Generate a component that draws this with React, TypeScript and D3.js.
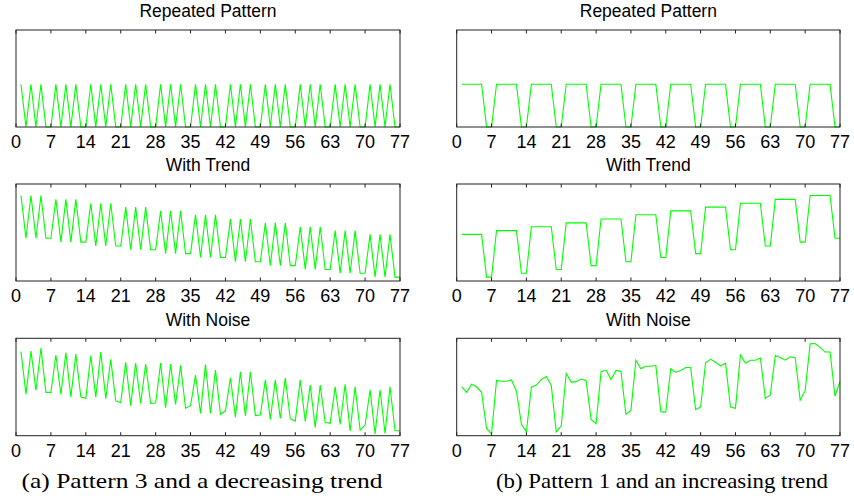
import React from "react";
import * as d3 from "d3";

const xTicks = [0, 7, 14, 21, 28, 35, 42, 49, 56, 63, 70, 77];
const titles = ["Repeated Pattern", "With Trend", "With Noise"];
const captions = ["(a) Pattern 3 and a decreasing trend", "(b) Pattern 1 and an increasing trend"];

const leftRepeated = [
  1, 0, 1, 0, 1, 0, 0, 1, 0, 1, 0, 1, 0, 0, 1, 0, 1, 0, 1, 0, 0, 1, 0, 1, 0, 1, 0, 0,
  1, 0, 1, 0, 1, 0, 0, 1, 0, 1, 0, 1, 0, 0, 1, 0, 1, 0, 1, 0, 0, 1, 0, 1, 0, 1, 0, 0,
  1, 0, 1, 0, 1, 0, 0, 1, 0, 1, 0, 1, 0, 0, 1, 0, 1, 0, 1, 0, 0,
];
const leftTrend = [
  2.0, 1.0, 2.0, 1.0, 2.0, 1.0, 1.0,
  1.91, 0.91, 1.91, 0.91, 1.91, 0.91, 0.91,
  1.82, 0.82, 1.82, 0.82, 1.82, 0.82, 0.82,
  1.73, 0.73, 1.73, 0.73, 1.73, 0.73, 0.73,
  1.64, 0.64, 1.64, 0.64, 1.64, 0.64, 0.64,
  1.55, 0.55, 1.55, 0.55, 1.55, 0.55, 0.55,
  1.45, 0.45, 1.45, 0.45, 1.45, 0.45, 0.45,
  1.36, 0.36, 1.36, 0.36, 1.36, 0.36, 0.36,
  1.27, 0.27, 1.27, 0.27, 1.27, 0.27, 0.27,
  1.18, 0.18, 1.18, 0.18, 1.18, 0.18, 0.18,
  1.09, 0.09, 1.09, 0.09, 1.09, 0.09, 0.09,
];
const leftNoise = [
  1.96, 0.97, 1.97, 1.06, 2.04, 1.01, 1.01,
  1.88, 0.96, 1.94, 0.9, 1.9, 0.9, 0.87,
  1.87, 0.9, 1.95, 0.86, 1.78, 0.81, 0.77,
  1.71, 0.7, 1.69, 0.75, 1.67, 0.75, 0.76,
  1.69, 0.65, 1.67, 0.73, 1.64, 0.64, 0.7,
  1.41, 0.52, 1.66, 0.52, 1.53, 0.5, 0.58,
  1.35, 0.43, 1.49, 0.46, 1.49, 0.47, 0.48,
  1.3, 0.38, 1.3, 0.4, 1.35, 0.39, 0.34,
  1.3, 0.33, 1.18, 0.19, 1.18, 0.31, 0.29,
  1.14, 0.26, 1.2, 0.11, 1.14, 0.13, 0.25,
  1.07, 0.04, 1.07, 0.05, 1.14, 0.12, 0.11,
];
const rightRepeated = [
  1, 1, 1, 1, 1, 0, 0, 1, 1, 1, 1, 1, 0, 0, 1, 1, 1, 1, 1, 0, 0, 1, 1, 1, 1, 1, 0, 0,
  1, 1, 1, 1, 1, 0, 0, 1, 1, 1, 1, 1, 0, 0, 1, 1, 1, 1, 1, 0, 0, 1, 1, 1, 1, 1, 0, 0,
  1, 1, 1, 1, 1, 0, 0, 1, 1, 1, 1, 1, 0, 0, 1, 1, 1, 1, 1, 0, 0,
];
const rightTrend = [
  1.09, 1.09, 1.09, 1.09, 1.09, 0.09, 0.09,
  1.18, 1.18, 1.18, 1.18, 1.18, 0.18, 0.18,
  1.27, 1.27, 1.27, 1.27, 1.27, 0.27, 0.27,
  1.36, 1.36, 1.36, 1.36, 1.36, 0.36, 0.36,
  1.45, 1.45, 1.45, 1.45, 1.45, 0.45, 0.45,
  1.55, 1.55, 1.55, 1.55, 1.55, 0.55, 0.55,
  1.64, 1.64, 1.64, 1.64, 1.64, 0.64, 0.64,
  1.73, 1.73, 1.73, 1.73, 1.73, 0.73, 0.73,
  1.82, 1.82, 1.82, 1.82, 1.82, 0.82, 0.82,
  1.91, 1.91, 1.91, 1.91, 1.91, 0.91, 0.91,
  2.0, 2.0, 2.0, 2.0, 2.0, 1.0, 1.0,
];
const rightNoise = [
  1.14, 1.01, 1.2, 1.14, 1.01, 0.17, 0.04,
  1.29, 1.27, 1.27, 1.3, 1.04, 0.27, 0.09,
  1.13, 1.18, 1.31, 1.38, 1.17, 0.09, 0.23,
  1.45, 1.25, 1.26, 1.32, 1.28, 0.38, 0.28,
  1.49, 1.53, 1.31, 1.52, 1.5, 0.5, 0.59,
  1.76, 1.56, 1.62, 1.62, 1.64, 0.56, 0.55,
  1.56, 1.48, 1.52, 1.59, 1.59, 0.61, 0.67,
  1.7, 1.78, 1.71, 1.63, 1.69, 0.67, 0.64,
  1.88, 1.69, 1.76, 1.76, 1.81, 0.87, 0.95,
  1.87, 1.82, 1.76, 1.84, 1.82, 0.83, 1.05,
  2.14, 2.15, 2.06, 1.95, 1.95, 0.92, 1.26,
];

const columns = [
  [leftRepeated, leftTrend, leftNoise],
  [rightRepeated, rightTrend, rightNoise],
];

const W = 854;
const H = 500;
const colX: [number, number][] = [
  [16, 400],
  [456.7, 840],
];
const rowY: [number, number][] = [
  [30, 127],
  [184, 281],
  [338.3, 435.7],
];
const titleBaseline = [17, 171, 325.5];
const sans = "'Liberation Sans', Arial, Helvetica, sans-serif";
const serif = "'Liberation Serif', 'Times New Roman', serif";

function Panel({ data, x0, x1, y0, y1, title, titleY }: any) {
  const x = d3.scaleLinear().domain([0, 77]).range([x0, x1]);
  const y = d3.scaleLinear().domain([0, 2.27]).range([y1, y0]);
  const line = d3
    .line<number>()
    .x((_, i) => x(i + 1))
    .y((d) => y(d));
  return (
    <g>
      <text x={(x0 + x1) / 2} y={titleY} textAnchor="middle" fontFamily={sans} fontSize={17.5} fill="#000">
        {title}
      </text>
      <path d={line(data) || ""} fill="none" stroke="#00ff00" strokeWidth={1.1} />
      {xTicks.map((t) => (
        <g key={t}>
          <line x1={x(t)} x2={x(t)} y1={y0} y2={y0 + 3.5} stroke="#222" strokeWidth={1} />
          <line x1={x(t)} x2={x(t)} y1={y1} y2={y1 - 3.5} stroke="#222" strokeWidth={1} />
          <text x={x(t)} y={y1 + 21} textAnchor="middle" fontFamily={sans} fontSize={18} fill="#000">
            {t}
          </text>
        </g>
      ))}
      <rect x={x0} y={y0} width={x1 - x0} height={y1 - y0} fill="none" stroke="#222" strokeWidth={1} />
    </g>
  );
}

export default function App() {
  return (
    <svg
      width={W}
      height={H}
      viewBox={`0 0 ${W} ${H}`}
      style={{ position: "absolute", left: 0, top: 0, background: "#fff" }}
    >
      <rect x={0} y={0} width={W} height={H} fill="#fff" />
      {columns.map((col, ci) =>
        col.map((data, ri) => (
          <Panel
            key={`${ci}-${ri}`}
            data={data}
            x0={colX[ci][0]}
            x1={colX[ci][1]}
            y0={rowY[ri][0]}
            y1={rowY[ri][1]}
            title={titles[ri]}
            titleY={titleBaseline[ri]}
          />
        ))
      )}
      <text
        x={202}
        y={488}
        textAnchor="middle"
        fontFamily={serif}
        fontSize={21}
        textLength={361}
        lengthAdjust="spacingAndGlyphs"
        fill="#000"
      >
        {captions[0]}
      </text>
      <text
        x={662}
        y={488}
        textAnchor="middle"
        fontFamily={serif}
        fontSize={21}
        textLength={332}
        lengthAdjust="spacingAndGlyphs"
        fill="#000"
      >
        {captions[1]}
      </text>
    </svg>
  );
}
